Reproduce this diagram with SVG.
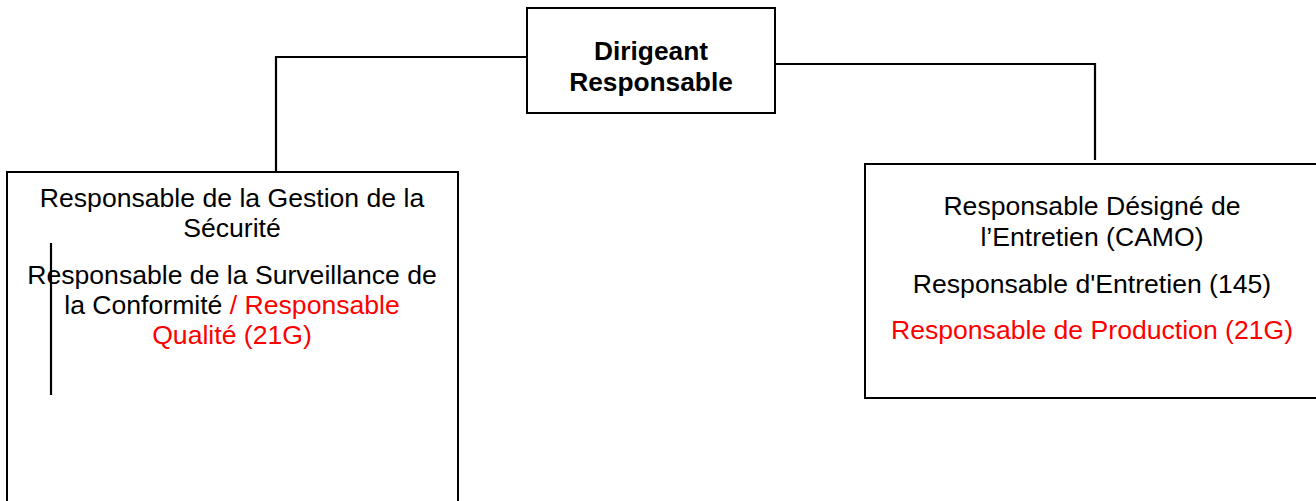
<svg xmlns="http://www.w3.org/2000/svg" width="1316" height="501" viewBox="0 0 1316 501">
<style>
.box{fill:#fff;stroke:#000;stroke-width:2}
.ln{fill:none;stroke:#000;stroke-width:2.2}
text{font-family:"Liberation Sans",Arial,sans-serif;font-size:26.6px;fill:#000;text-anchor:middle}
.b{font-weight:bold;font-size:26.3px}
.r{fill:#ff0000}
</style>
<rect width="1316" height="501" fill="#fff"/>
<g id="connectors">
<polyline class="ln" points="527,57 276,57 276,173"/>
<polyline class="ln" points="776,64 1095,64 1095,160"/>
</g>
<g id="dirigeant">
<rect class="box" x="527" y="8" width="248" height="105"/>
<text class="b" x="651" y="60">Dirigeant</text>
<text class="b" x="651" y="91">Responsable</text>
</g>
<g id="securite">
<rect class="box" x="7" y="172" width="451" height="340"/>
<text x="232" y="207">Responsable de la Gestion de la</text>
<text x="232" y="237">Sécurité</text>
<text x="232" y="284">Responsable de la Surveillance de</text>
<text x="232" y="314">la Conformité <tspan class="r">/ Responsable</tspan></text>
<text class="r" x="232" y="344">Qualité (21G)</text>
<line class="ln" x1="51" y1="243" x2="51" y2="395"/>
</g>
<g id="entretien">
<rect class="box" x="865" y="164" width="460" height="234"/>
<text x="1092" y="215">Responsable Désigné de</text>
<text x="1092" y="246">l’Entretien (CAMO)</text>
<text x="1092" y="293">Responsable d'Entretien (145)</text>
<text class="r" x="1092" y="339">Responsable de Production (21G)</text>
</g>
</svg>
